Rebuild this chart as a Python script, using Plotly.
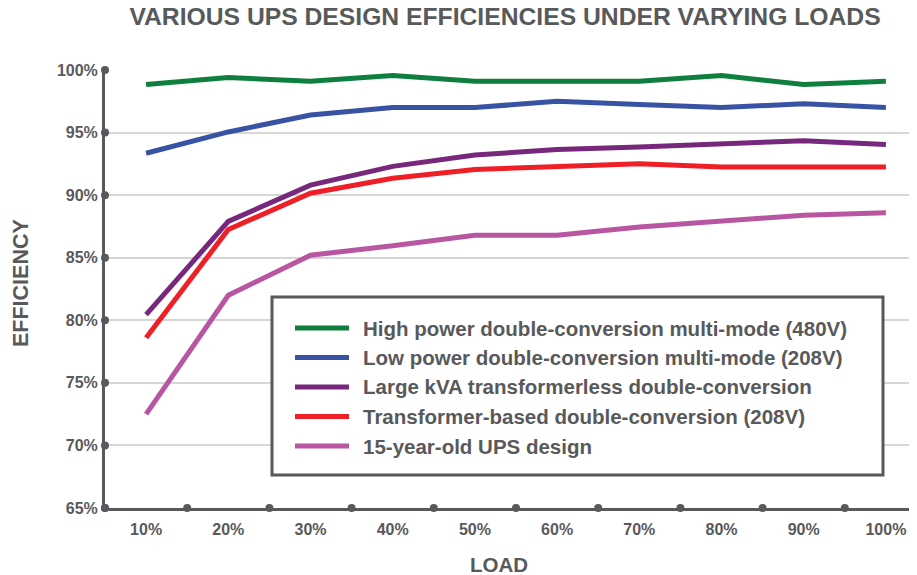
import plotly.graph_objects as go

# ---- data ----
load_labels = ["10%", "20%", "30%", "40%", "50%", "60%", "70%", "80%", "90%", "100%"]
series_names = [
    "High power double-conversion multi-mode (480V)",
    "Low power double-conversion multi-mode (208V)",
    "Large kVA transformerless double-conversion",
    "Transformer-based double-conversion (208V)",
    "15-year-old UPS design",
]
high_power_480v = [98.85, 99.4, 99.1, 99.55, 99.1, 99.1, 99.1, 99.55, 98.85, 99.1]
low_power_208v = [93.35, 95.05, 96.4, 97.0, 97.0, 97.5, 97.25, 97.0, 97.3, 97.0]
large_kva_tl = [80.45, 87.9, 90.8, 92.3, 93.2, 93.65, 93.85, 94.05, 94.35, 94.05]
transformer_208v = [78.6, 87.25, 90.15, 91.35, 92.05, 92.25, 92.5, 92.25, 92.25, 92.25]
old_ups = [72.5, 82.0, 85.2, 85.95, 86.8, 86.8, 87.45, 87.9, 88.4, 88.6]
y_ticks = [65, 70, 75, 80, 85, 90, 95, 100]
y_tick_labels = [f"{v}%" for v in y_ticks]

all_series = [high_power_480v, low_power_208v, large_kva_tl, transformer_208v, old_ups]
colors = ["#0f7f3f", "#3853a4", "#77287c", "#ee1f26", "#b856a2"]

GRAY = "#58595b"
FONT = "Liberation Sans, Arial, sans-serif"

OFF = 8  # page body margin
W, H = 917 - OFF, 575 - OFF
L, R, T = 105 - OFF, 0, 70 - OFF
B = H - (508 - OFF)
pw, ph = W - L - R, H - T - B

x_pos = list(range(1, len(load_labels) + 1))
step_px = 82.2
x_range = [0.5, 0.5 + pw / step_px]

fig = go.Figure()

for name, vals, col in zip(series_names, all_series, colors):
    fig.add_trace(go.Scatter(x=x_pos, y=vals, mode="lines", name=name,
                             line=dict(color=col, width=5), showlegend=False,
                             hoverinfo="x+y"))

# axis dots (decorations at category boundaries and y ticks)
bx = [p - 0.5 for p in x_pos]
fig.add_trace(go.Scatter(x=bx, y=[y_ticks[0]] * len(bx), mode="markers",
                         marker=dict(color=GRAY, size=8), cliponaxis=False,
                         showlegend=False, hoverinfo="skip"))
fig.add_trace(go.Scatter(x=[x_range[0]] * len(y_ticks), y=y_ticks, mode="markers",
                         marker=dict(color=GRAY, size=8), cliponaxis=False,
                         showlegend=False, hoverinfo="skip"))

fig.update_xaxes(range=x_range, tickvals=x_pos, ticktext=load_labels,
                 showgrid=False, zeroline=False, showline=True, linecolor=GRAY,
                 linewidth=3, ticks="outside", ticklen=5, tickcolor="rgba(0,0,0,0)",
                 tickfont=dict(family=FONT, size=16, color=GRAY, weight="bold"))
fig.update_yaxes(range=[65, 100], tickvals=y_ticks, ticktext=y_tick_labels,
                 showgrid=True, gridcolor="#d6d6d6", gridwidth=2, zeroline=False,
                 showline=True, linecolor=GRAY, linewidth=3,
                 ticks="outside", ticklen=1, tickcolor="rgba(0,0,0,0)",
                 tickfont=dict(family=FONT, size=16, color=GRAY, weight="bold"))

def px_x(px):
    return (px - OFF - L) / pw

def px_y(py):
    return (H - B - (py - OFF)) / ph

shapes = [dict(type="rect", xref="paper", yref="paper",
               x0=px_x(272), x1=px_x(883), y0=px_y(475), y1=px_y(297),
               line=dict(color=GRAY, width=3), fillcolor="white", layer="above")]
annotations = []
row0, row_step = 328, 29.5
for i, (name, col) in enumerate(zip(series_names, colors)):
    yy = px_y(row0 + i * row_step)
    shapes.append(dict(type="line", xref="paper", yref="paper",
                       x0=px_x(295), x1=px_x(349), y0=yy, y1=yy,
                       line=dict(color=col, width=5), layer="above"))
    annotations.append(dict(xref="paper", yref="paper", x=px_x(361), y=yy,
                            xanchor="left", yanchor="middle", showarrow=False,
                            text=name, font=dict(family=FONT, size=20.5, color=GRAY, weight="bold")))

annotations.append(dict(xref="paper", yref="paper", x=px_x(21), y=px_y(283),
                        xanchor="center", yanchor="middle", showarrow=False, textangle=-90,
                        text="EFFICIENCY", font=dict(family=FONT, size=21.5, color=GRAY, weight="bold")))
annotations.append(dict(xref="paper", yref="paper", x=px_x(499), y=px_y(564),
                        xanchor="center", yanchor="middle", showarrow=False,
                        text="LOAD", font=dict(family=FONT, size=20.5, color=GRAY, weight="bold")))

fig.update_layout(
    width=W, height=H,
    margin=dict(l=L, r=R, t=T, b=B),
    paper_bgcolor="white", plot_bgcolor="white",
    title=dict(text="VARIOUS UPS DESIGN EFFICIENCIES UNDER VARYING LOADS",
               x=(505 - OFF) / W, xref="container", xanchor="center",
               y=1 - (16.5 - OFF) / H, yref="container", yanchor="middle",
               font=dict(family=FONT, size=24.7, color=GRAY, weight="bold")),
    shapes=shapes, annotations=annotations, showlegend=False,
)

fig.write_html("out.html")
